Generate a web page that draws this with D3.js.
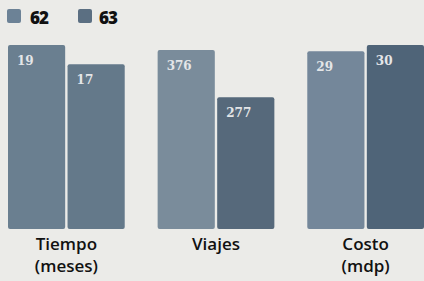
<!DOCTYPE html>
<html>
<head>
<meta charset="utf-8">
<script src="https://cdn.jsdelivr.net/npm/d3@7"></script>
<style>
  html, body { margin: 0; padding: 0; background: #ebebe8; }
  #chart { width: 424px; height: 281px; }
</style>
</head>
<body>
<div id="chart"></div>
<script>
const categories = [["Tiempo", "(meses)"], ["Viajes"], ["Costo", "(mdp)"]];
const series = ["62", "63"];
const values62 = [19, 376, 29];
const values63 = [17, 277, 30];

const width = 424, height = 281;
const base = 229, topY = 45;
const colors = {
  "62": ["#6a7f90", "#7a8c9b", "#74879a"],
  "63": ["#64798a", "#56697b", "#4f6478"]
};
const legendColors = ["#6c8296", "#5b6f82"];

const svg = d3.select("#chart").append("svg")
  .attr("width", width).attr("height", height);

const x0 = d3.scaleBand()
  .domain(d3.range(categories.length))
  .range([8, 424])
  .paddingInner(0.22);

const x1 = d3.scaleBand()
  .domain(series)
  .range([0, x0.bandwidth()])
  .paddingInner(0.04);

// each group has its own height scale
const data = categories.map((c, i) => {
  const vals = [values62[i], values63[i]];
  const y = d3.scaleLinear().domain([0, d3.max(vals)]).range([base, topY + (i === 1 ? 5 : 0)]);
  return { label: c, i, vals, y };
});

const g = svg.selectAll("g.grp")
  .data(data)
  .join("g")
  .attr("class", "grp")
  .attr("transform", d => `translate(${x0(d.i)},0)`);

g.selectAll("rect")
  .data(d => d.vals.map((v, k) => ({ v, k, y: d.y, i: d.i })))
  .join("rect")
  .attr("x", d => x1(series[d.k]))
  .attr("y", d => d.y(d.v))
  .attr("width", x1.bandwidth())
  .attr("height", d => base - d.y(d.v))
  .attr("rx", 2)
  .attr("fill", d => colors[series[d.k]][d.i]);

g.selectAll("text.val")
  .data(d => d.vals.map((v, k) => ({ v, k, y: d.y })))
  .join("text")
  .attr("class", "val")
  .attr("x", d => x1(series[d.k]) + 9)
  .attr("y", d => d.y(d.v) + 20)
  .attr("font-family", "DejaVu Serif, serif")
  .attr("font-size", 12)
  .attr("font-weight", "bold")
  .attr("fill", "#e4e6e8")
  .text(d => d.v);

g.selectAll("text.cat")
  .data(d => d.label.map((t, j) => ({ t, j })))
  .join("text")
  .attr("class", "cat")
  .attr("x", x0.bandwidth() / 2)
  .attr("y", d => 250 + d.j * 22)
  .attr("text-anchor", "middle")
  .attr("font-family", "Open Sans, sans-serif")
  .attr("font-size", 17)
  .attr("font-weight", 600)
  .attr("fill", "#111")
  .text(d => d.t);

// legend
const leg = svg.selectAll("g.leg")
  .data(series)
  .join("g")
  .attr("class", "leg")
  .attr("transform", (d, k) => `translate(${7 + k * 71},9)`);

leg.append("rect")
  .attr("width", 14).attr("height", 14).attr("rx", 2)
  .attr("fill", (d, k) => legendColors[k]);

leg.append("text")
  .attr("x", (d, k) => k ? 21 : 23).attr("y", 15)
  .attr("font-family", "Open Sans, sans-serif")
  .attr("font-size", 17)
  .attr("font-weight", 800)
  .attr("letter-spacing", -1)
  .attr("fill", "#111")
  .text(d => d);
</script>
</body>
</html>
